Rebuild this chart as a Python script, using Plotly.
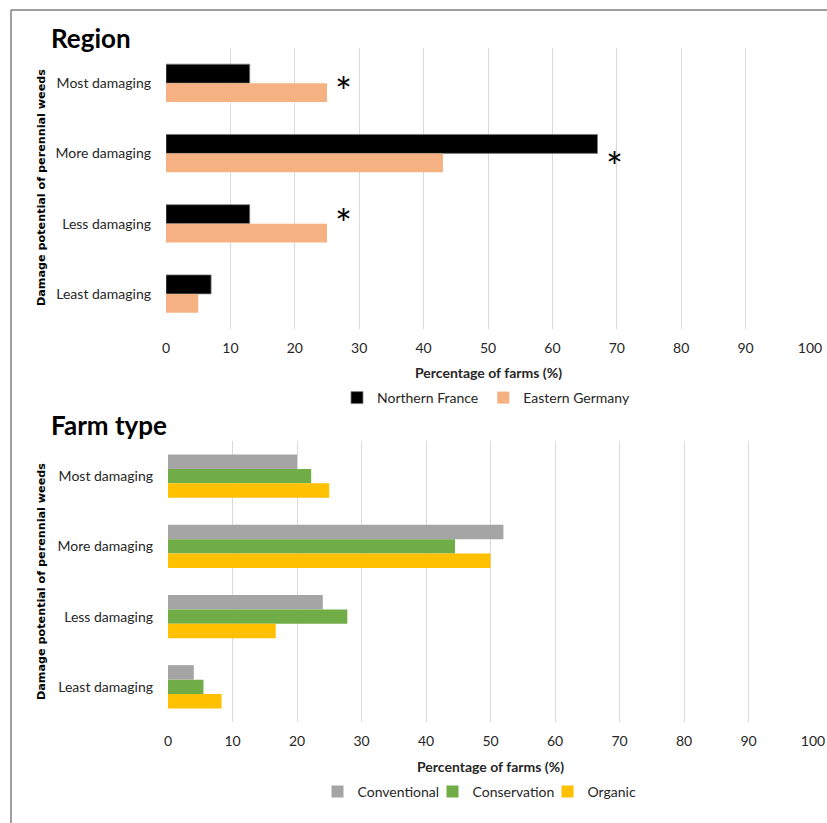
import plotly.graph_objects as go

W, H = 827, 823

categories = ["Most damaging", "More damaging", "Less damaging", "Least damaging"]

# Region panel
northern_france = [13, 67, 13, 7]
eastern_germany = [25, 43, 25, 5]
significant = ["Most damaging", "More damaging", "Less damaging"]

# Farm type panel
conventional = [20, 52, 24, 4]
conservation = [22.2, 44.5, 27.8, 5.5]
organic = [25, 50, 16.7, 8.3]

x_ticks = list(range(0, 101, 10))

FONT = "Lato"
TXT = "#262626"

def px_x(v):
    return v / W

def px_y(v):
    return 1 - v / H

fig = go.Figure()

fig.add_trace(go.Bar(y=categories, x=northern_france, orientation="h", name="Northern France",
                     marker=dict(color="#000000", line=dict(color="#7f7f7f", width=0.8)),
                     xaxis="x", yaxis="y", legend="legend"))
fig.add_trace(go.Bar(y=categories, x=eastern_germany, orientation="h", name="Eastern Germany",
                     marker=dict(color="#F6B183", line=dict(width=0)),
                     xaxis="x", yaxis="y", legend="legend"))

fig.add_trace(go.Bar(y=categories, x=conventional, orientation="h", name="Conventional",
                     marker=dict(color="#A5A5A5", line=dict(width=0)),
                     xaxis="x2", yaxis="y2", legend="legend2"))
fig.add_trace(go.Bar(y=categories, x=conservation, orientation="h", name="Conservation",
                     marker=dict(color="#70AD47", line=dict(width=0)),
                     xaxis="x2", yaxis="y2", legend="legend2"))
fig.add_trace(go.Bar(y=categories, x=organic, orientation="h", name="Organic",
                     marker=dict(color="#FFC000", line=dict(width=0)),
                     xaxis="x2", yaxis="y2", legend="legend2"))

xaxis_common = dict(range=[0, 100], tickvals=x_ticks, showgrid=True, gridcolor="#D9D9D9",
                    gridwidth=1, zeroline=False, showline=False, ticks="",
                    tickfont=dict(family=FONT, size=14, color=TXT), ticklabelstandoff=9,
                    automargin=False, fixedrange=True)
yaxis_common = dict(categoryorder="array", categoryarray=categories, autorange="reversed",
                    showgrid=False, zeroline=False, showline=False, ticks="",
                    tickfont=dict(family=FONT, size=14, color=TXT), ticklabelstandoff=14,
                    automargin=False, fixedrange=True)

fig.update_layout(
    width=W, height=H,
    margin=dict(l=0, r=0, t=0, b=0),
    paper_bgcolor="white", plot_bgcolor="white",
    barmode="group",
    showlegend=True,
    xaxis=dict(domain=[px_x(166), px_x(810)], anchor="y", **xaxis_common),
    yaxis=dict(domain=[px_y(329), px_y(48)], anchor="x", **yaxis_common),
    xaxis2=dict(domain=[px_x(168), px_x(813)], anchor="y2", **xaxis_common),
    yaxis2=dict(domain=[px_y(722), px_y(441)], anchor="x2", **yaxis_common),
    legend=dict(orientation="h", x=px_x(486), y=px_y(398), xanchor="center", yanchor="middle",
                font=dict(family=FONT, size=14, color=TXT), itemwidth=30,
                bgcolor="rgba(0,0,0,0)", tracegroupgap=0),
    legend2=dict(orientation="h", x=px_x(490), y=px_y(792), xanchor="center", yanchor="middle",
                 font=dict(family=FONT, size=14, color=TXT), itemwidth=30, entrywidth=70,
                 bgcolor="rgba(0,0,0,0)", tracegroupgap=0),
)
fig.update_layout(bargap=0.46, bargroupgap=0)
fig.update_traces(selector=dict(xaxis="x2"), width=0.206)
for i, tr in enumerate(fig.data[2:]):
    tr.offset = -0.309 + i * 0.206

annotations = []
annotations.append(dict(text="<b>Region</b>", x=px_x(49), y=px_y(38), xref="paper", yref="paper",
                        xanchor="left", yanchor="middle", showarrow=False,
                        font=dict(family=FONT, size=26, color="#000000")))
annotations.append(dict(text="<b>Farm type</b>", x=px_x(49), y=px_y(425), xref="paper", yref="paper",
                        xanchor="left", yanchor="middle", showarrow=False,
                        font=dict(family=FONT, size=26, color="#000000")))
for xc, yc in [(488, 372), (490, 766)]:
    annotations.append(dict(text="<b>Percentage of farms (%)</b>", x=px_x(xc), y=px_y(yc),
                            xref="paper", yref="paper", xanchor="center", yanchor="middle",
                            showarrow=False, font=dict(family=FONT, size=14, color=TXT)))
for yc in [188, 582]:
    annotations.append(dict(text="<b>Damage potential of perennial weeds</b>", x=px_x(41), y=px_y(yc),
                            xref="paper", yref="paper", xanchor="center", yanchor="middle",
                            textangle=-90, showarrow=False,
                            font=dict(family="DejaVu Sans", size=11.2, color="#000000")))
shifts = {"Most damaging": -9, "More damaging": -14, "Less damaging": 0}
for cat in significant:
    i = categories.index(cat)
    xv = max(northern_france[i], eastern_germany[i]) + 2.6
    annotations.append(dict(text="*", x=xv, y=cat, xref="x", yref="y", xanchor="center",
                            yanchor="middle", yshift=shifts[cat], showarrow=False,
                            font=dict(family=FONT, size=40, color="#000000")))
fig.update_layout(annotations=annotations)

fig.add_shape(type="line", xref="paper", yref="paper", x0=px_x(11), y0=px_y(10), x1=1.01, y1=px_y(10),
              line=dict(color="#7f7f7f", width=1.5))
fig.add_shape(type="line", xref="paper", yref="paper", x0=px_x(11), y0=px_y(10), x1=px_x(11), y1=-0.01,
              line=dict(color="#7f7f7f", width=1.5))

fig.write_html("out.html")
